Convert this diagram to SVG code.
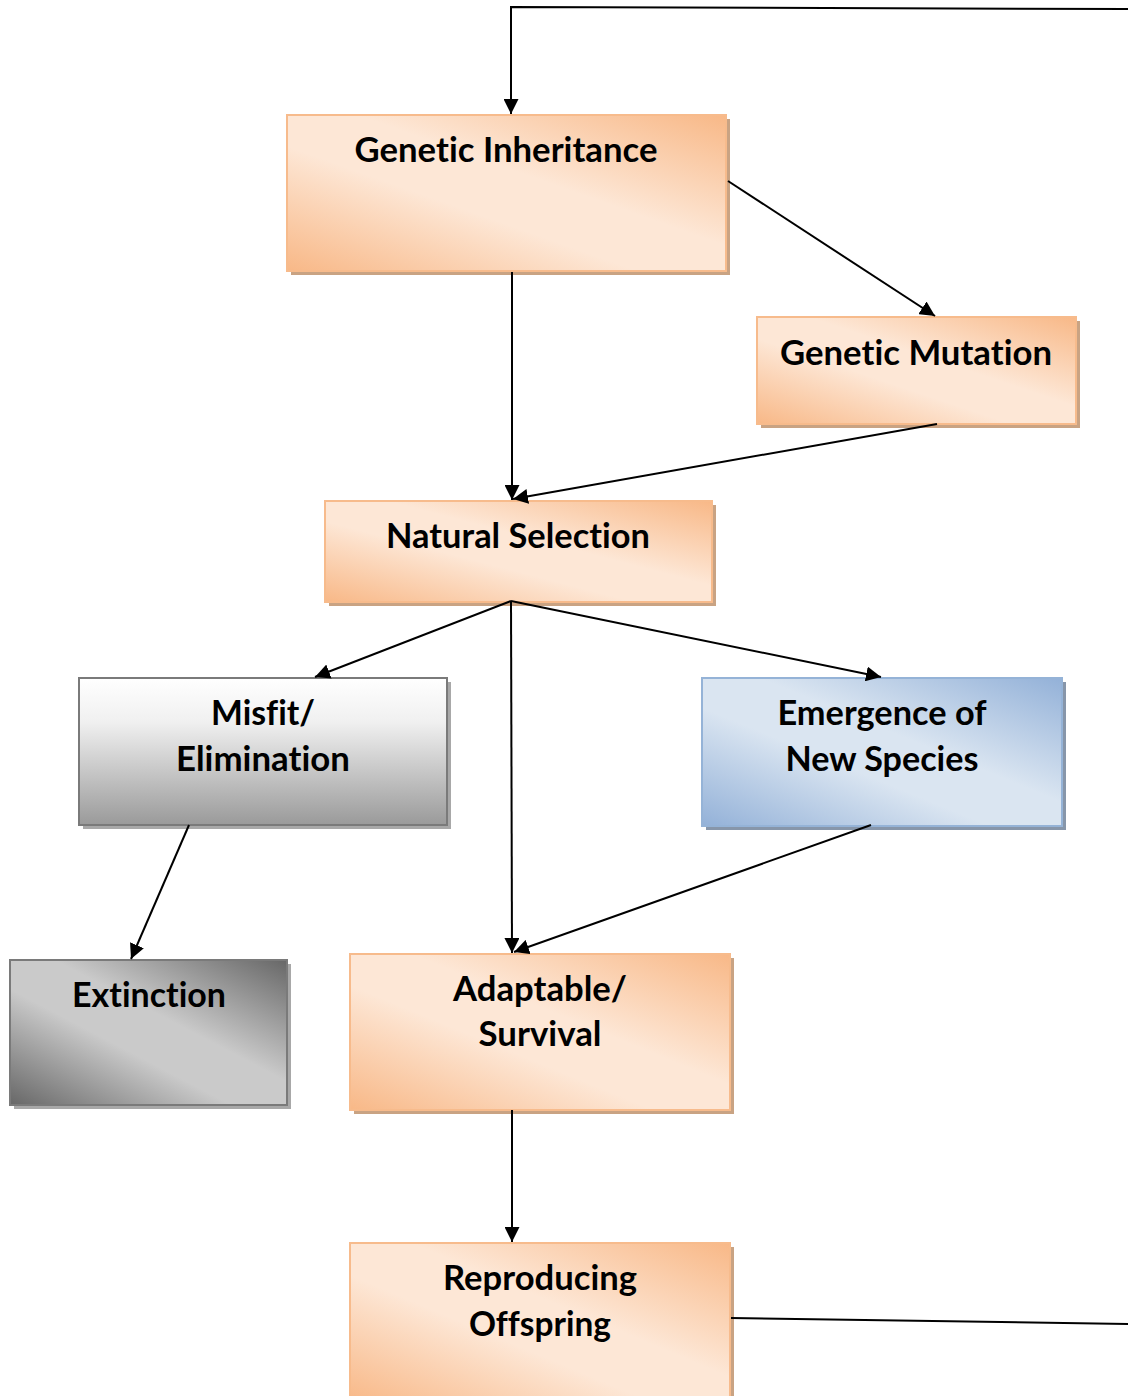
<svg xmlns="http://www.w3.org/2000/svg" width="1128" height="1396" viewBox="0 0 1128 1396">
<defs>
<linearGradient id="gOrange" x1="1" y1="0" x2="0" y2="1">
<stop offset="0" stop-color="#f8b887"/>
<stop offset="0.42" stop-color="#fde7d6"/>
<stop offset="0.6" stop-color="#fde7d6"/>
<stop offset="1" stop-color="#f8b887"/>
</linearGradient>
<linearGradient id="gBlue" x1="1" y1="0" x2="0" y2="1">
<stop offset="0" stop-color="#93b1d8"/>
<stop offset="0.42" stop-color="#dae5f1"/>
<stop offset="0.6" stop-color="#dae5f1"/>
<stop offset="1" stop-color="#93b1d8"/>
</linearGradient>
<linearGradient id="gDark" x1="1" y1="0" x2="0" y2="1">
<stop offset="0" stop-color="#676767"/>
<stop offset="0.42" stop-color="#cacaca"/>
<stop offset="0.6" stop-color="#cacaca"/>
<stop offset="1" stop-color="#676767"/>
</linearGradient>
<linearGradient id="gGray" x1="0" y1="0" x2="0" y2="1">
<stop offset="0" stop-color="#ffffff"/>
<stop offset="0.3" stop-color="#f0f0f0"/>
<stop offset="1" stop-color="#9a9a9a"/>
</linearGradient>
<marker id="arr" viewBox="0 0 10 10" refX="10" refY="5" markerWidth="7.5" markerHeight="7.5" markerUnits="strokeWidth" orient="auto">
<path d="M0,0 L10,5 L0,10 z" fill="#000"/>
</marker>
</defs>
<style>
.lbl{font-family:Lato,"Open Sans","Liberation Sans",sans-serif;font-weight:700;font-size:34px;fill:#000;text-anchor:middle;font-variant-ligatures:none;font-feature-settings:"liga" 0,"dlig" 0;letter-spacing:0.01px}
.o{fill:url(#gOrange);stroke:#f7bb8c;stroke-width:2}
.os{fill:#c9a383}
.b{fill:url(#gBlue);stroke:#95b3d7;stroke-width:2}
.bs{fill:#8796aa}
.d{fill:url(#gDark);stroke:#7a7a7a;stroke-width:2}
.ds{fill:#a8a8a8}
.g{fill:url(#gGray);stroke:#7a7a7a;stroke-width:2}
.gs{fill:#a8a8a8}
.c{fill:none;stroke:#000;stroke-width:2}
</style>
<g id="genetic-inheritance">
<rect class="os" x="291" y="119" width="439" height="156"/>
<rect class="o" x="287" y="115" width="439" height="156"/>
<text class="lbl" x="506" y="162" textLength="303" lengthAdjust="spacingAndGlyphs">Genetic Inheritance</text>
</g>
<g id="genetic-mutation">
<rect class="os" x="761" y="321" width="319" height="107"/>
<rect class="o" x="757" y="317" width="319" height="107"/>
<text class="lbl" x="916" y="365" textLength="272" lengthAdjust="spacingAndGlyphs">Genetic Mutation</text>
</g>
<g id="natural-selection">
<rect class="os" x="329" y="505" width="387" height="101"/>
<rect class="o" x="325" y="501" width="387" height="101"/>
<text class="lbl" x="518" y="548" textLength="264" lengthAdjust="spacingAndGlyphs">Natural Selection</text>
</g>
<g id="misfit-elimination">
<rect class="gs" x="83" y="682" width="368" height="147"/>
<rect class="g" x="79" y="678" width="368" height="147"/>
<text class="lbl" x="263" y="725" textLength="104" lengthAdjust="spacingAndGlyphs">Misfit/</text>
<text class="lbl" x="263" y="771" textLength="174" lengthAdjust="spacingAndGlyphs">Elimination</text>
</g>
<g id="emergence-new-species">
<rect class="bs" x="706" y="682" width="360" height="148"/>
<rect class="b" x="702" y="678" width="360" height="148"/>
<text class="lbl" x="882" y="725" textLength="209" lengthAdjust="spacingAndGlyphs">Emergence of</text>
<text class="lbl" x="882" y="771" textLength="193" lengthAdjust="spacingAndGlyphs">New Species</text>
</g>
<g id="extinction">
<rect class="ds" x="14" y="964" width="277" height="145"/>
<rect class="d" x="10" y="960" width="277" height="145"/>
<text class="lbl" x="149" y="1007" textLength="154" lengthAdjust="spacingAndGlyphs">Extinction</text>
</g>
<g id="adaptable-survival">
<rect class="os" x="354" y="958" width="380" height="156"/>
<rect class="o" x="350" y="954" width="380" height="156"/>
<text class="lbl" x="540" y="1001" textLength="174" lengthAdjust="spacingAndGlyphs">Adaptable/</text>
<text class="lbl" x="540" y="1046" textLength="123" lengthAdjust="spacingAndGlyphs">Survival</text>
</g>
<g id="reproducing-offspring">
<rect class="os" x="354" y="1247" width="380" height="160"/>
<rect class="o" x="350" y="1243" width="380" height="160"/>
<text class="lbl" x="540" y="1290" textLength="194" lengthAdjust="spacingAndGlyphs">Reproducing</text>
<text class="lbl" x="540" y="1336" textLength="142" lengthAdjust="spacingAndGlyphs">Offspring</text>
</g>
<g id="connectors">
<polyline class="c" points="1128,9 511,7 511,114" marker-end="url(#arr)"/>
<line class="c" x1="731" y1="1318" x2="1128" y2="1324"/>
<line class="c" x1="728" y1="181" x2="935" y2="316" marker-end="url(#arr)"/>
<line class="c" x1="512" y1="272" x2="512" y2="500" marker-end="url(#arr)"/>
<line class="c" x1="937" y1="424" x2="513" y2="499" marker-end="url(#arr)"/>
<line class="c" x1="511" y1="601" x2="315" y2="677" marker-end="url(#arr)"/>
<line class="c" x1="511" y1="601" x2="881" y2="677" marker-end="url(#arr)"/>
<line class="c" x1="511" y1="601" x2="512" y2="953" marker-end="url(#arr)"/>
<line class="c" x1="189" y1="825" x2="131" y2="959" marker-end="url(#arr)"/>
<line class="c" x1="871" y1="825" x2="514" y2="952" marker-end="url(#arr)"/>
<line class="c" x1="512" y1="1110" x2="512" y2="1242" marker-end="url(#arr)"/>
</g>
</svg>
